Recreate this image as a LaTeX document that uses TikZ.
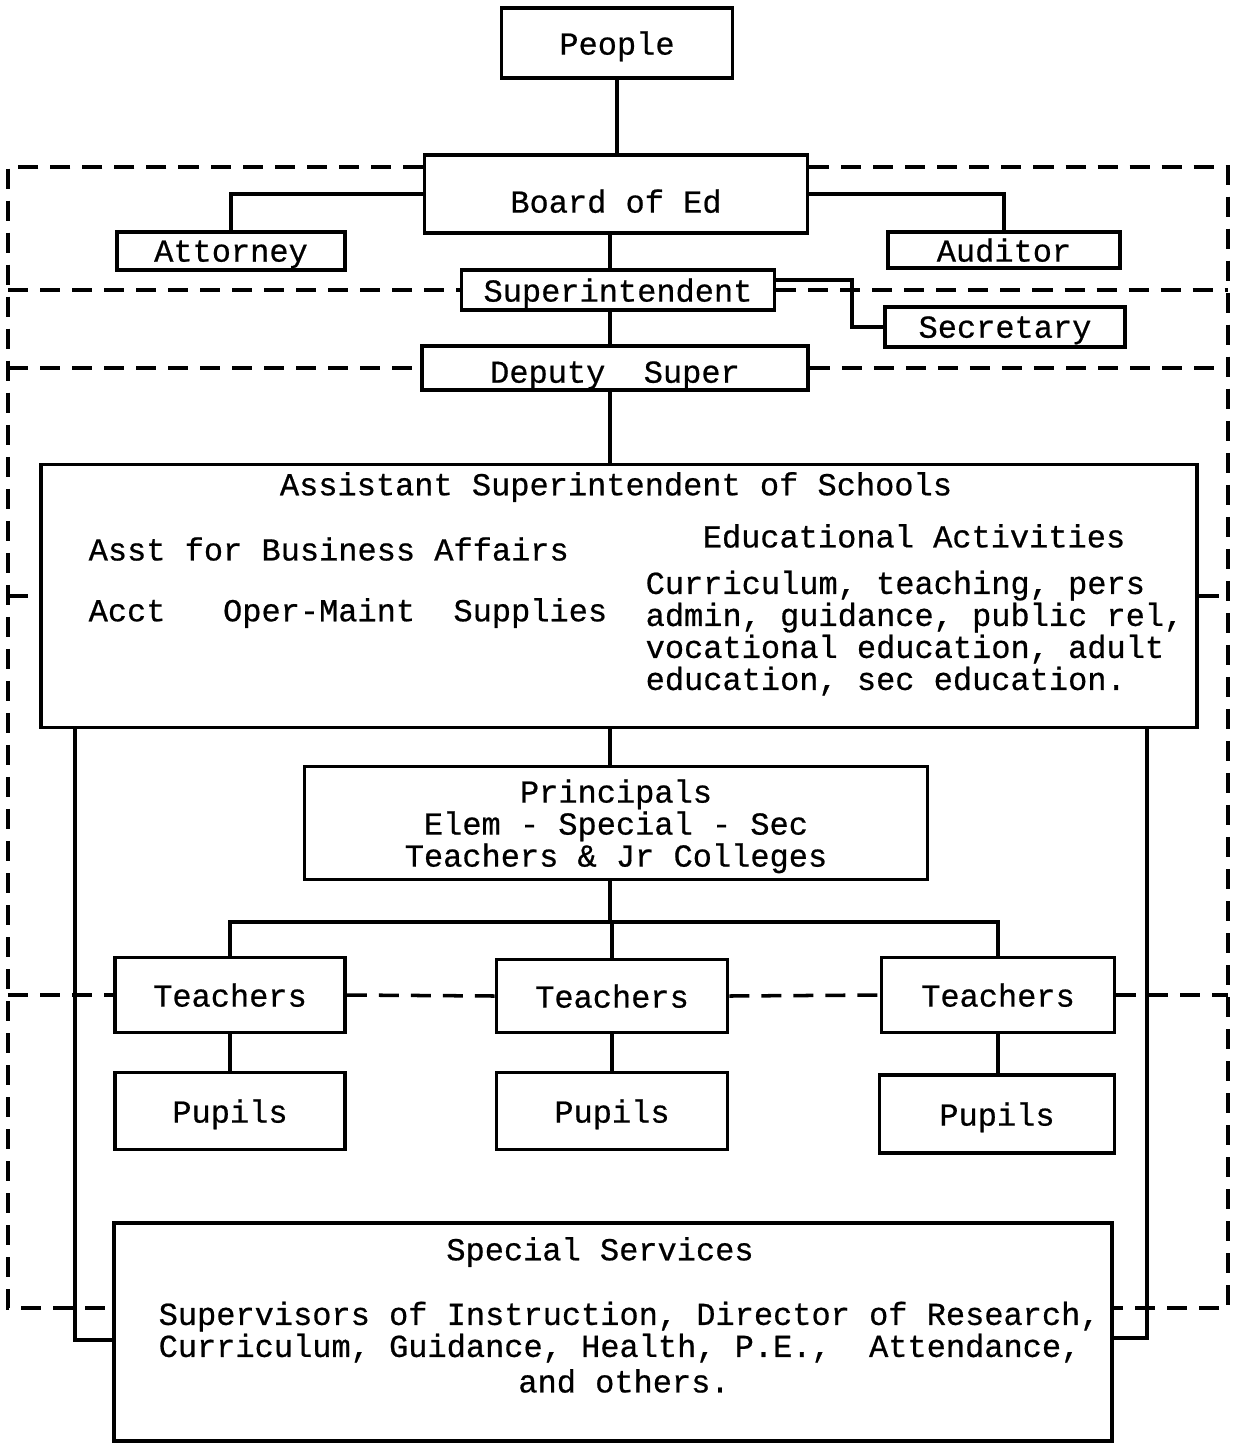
\documentclass[tikz,border=0pt]{standalone}
\usepackage{fontspec}
\newfontfamily\typeface{Liberation Mono}[FakeBold=0.6]
\usetikzlibrary{positioning}

\newcommand{\chartfont}{\fontsize{9.1}{9.1}\selectfont\typeface}

\tikzset{
  unit/.style={draw, line width=1pt, inner sep=0pt, text depth=0pt, font=\chartfont, align=center},
  label/.style={inner sep=0pt, font=\chartfont},
  tie/.style={line width=1pt},
  group/.style={line width=1pt, dash pattern=on 0.2cm off 0.12cm},
}

\begin{document}
\begin{tikzpicture}[x=0.01cm, y=-0.01cm]

        \useasboundingbox (0,0) rectangle (1240,1444);

        % Top of the chart
        \node[unit, minimum width=2.31cm, minimum height=0.70cm] (people) at (617,43) {People};
        \node[unit, minimum width=3.83cm, minimum height=0.78cm] (board) at (616,194) {\raisebox{-0.14cm}{Board of Ed}};
        \node[unit, minimum width=2.28cm, minimum height=0.38cm] (attorney) at (231,251) {Attorney};
        \node[unit, minimum width=2.32cm, minimum height=0.36cm] (auditor) at (1004,250) {Auditor};
        \node[unit, minimum width=3.13cm, minimum height=0.40cm] (superintendent) at (618,290) {Superintendent};
        \node[unit, minimum width=2.40cm, minimum height=0.40cm] (secretary) at (1005,327) {Secretary};
        \node[unit, minimum width=3.86cm, minimum height=0.44cm] (deputy) at (615,368) {\raisebox{-0.08cm}{Deputy\ \ Super}};

        % Assistant superintendent box
        \node[unit, minimum width=11.55cm, minimum height=2.63cm] (asst) at (619,596) {};
        \node[label] (asstname) at (616,487) {Assistant Superintendent of Schools};
        \node[label, anchor=west] (business) at (88,549) {Asst for Business Affairs};
        \node[label, anchor=west] (branches) at (88,613) {Acct\ \ \ Oper-Maint\ \ Supplies};
        \node[label] (eduname) at (914,536) {Educational Activities};
        \node[label, anchor=north west, align=left] (edulist) at (645,570)
            {Curriculum, teaching, pers\\admin, guidance, public rel,\\vocational education, adult\\education, sec education.};

        % Principals
        \node[unit, minimum width=6.23cm, minimum height=1.13cm] (principals) at (616,823)
            {Principals\\Elem - Special - Sec\\Teachers \& Jr Colleges};

        % Teachers and pupils
        \node[unit, minimum width=2.30cm, minimum height=0.75cm] (teachers1) at (230,995) {Teachers};
        \node[unit, minimum width=2.31cm, minimum height=0.73cm] (teachers2) at (612,996) {Teachers};
        \node[unit, minimum width=2.33cm, minimum height=0.75cm] (teachers3) at (998,995) {Teachers};
        \node[unit, minimum width=2.30cm, minimum height=0.77cm] (pupils1) at (230,1111) {Pupils};
        \node[unit, minimum width=2.31cm, minimum height=0.77cm] (pupils2) at (612,1111) {Pupils};
        \node[unit, minimum width=2.35cm, minimum height=0.78cm] (pupils3) at (997,1114) {Pupils};

        % Special services
        \node[unit, minimum width=9.97cm, minimum height=2.18cm] (special) at (613,1332) {};
        \node[label] (specialname) at (600,1252) {Special Services};
        \node[label, anchor=north west, align=left] (speciallist) at (158,1301)
            {Supervisors of Instruction, Director of Research,\\Curriculum, Guidance, Health, P.E.,\ \ Attendance,};
        \node[label] (specialrest) at (624,1381) {and others.};

        % Solid lines
        \coordinate (secjoint) at (852,280);
        \coordinate (split) at (610,922);
        \coordinate (leftrun) at (75,1340);
        \coordinate (rightrun) at (1147,1338);
        \draw[tie] (people.south) -- (people.south |- board.north);
        \draw[tie] (board.west) -| (attorney.north);
        \draw[tie] (board.east) -| (auditor.north);
        \draw[tie] (split |- board.south) -- (split |- superintendent.north);
        \draw[tie] (superintendent.east |- secjoint) -- (secjoint) |- (secretary.west);
        \draw[tie] (split |- superintendent.south) -- (split |- deputy.north);
        \draw[tie] (split |- deputy.south) -- (split |- asst.north);
        \draw[tie] (split |- asst.south) -- (split |- principals.north);
        \draw[tie] (split |- principals.south) -- (split);
        \draw[tie] (split) -| (teachers1.north);
        \draw[tie] (split) -| (teachers3.north);
        \draw[tie] (split) -- (split -| teachers2.north) -- (teachers2.north);
        \foreach \i in {1,2,3} {
            \draw[tie] (teachers\i.south) -- (teachers\i.south |- pupils\i.north);
        }
        \draw[tie] (leftrun |- asst.south) -- (leftrun) -- (leftrun -| special.west);
        \draw[tie] (rightrun |- asst.south) -- (rightrun) -- (rightrun -| special.east);

        % Dashed groups
        \coordinate (topleft) at (8,167);
        \coordinate (topright) at (1228,167);
        \coordinate (lowleft) at (8,1308);
        \coordinate (lowright) at (1228,1308);
        \draw[group] (board.west |- topleft) -- (topleft) -- (lowleft) -- (lowleft -| special.west);
        \draw[group] (board.east |- topright) -- (topright) -- (lowright) -- (lowright -| special.east);
        \foreach \n in {superintendent, deputy, asst} {
            \draw[group] (topleft |- \n.west) -- (\n.west);
            \draw[group] (\n.east) -- (topright |- \n.east);
        }
        \draw[group] (topleft |- teachers1.west) -- (teachers1.west);
        \draw[group] (teachers1.east) -- (teachers2.west);
        \draw[group] (teachers2.east) -- (teachers3.west);
        \draw[group] (teachers3.east) -- (topright |- teachers3.east);

    \end{tikzpicture}
\end{document}
